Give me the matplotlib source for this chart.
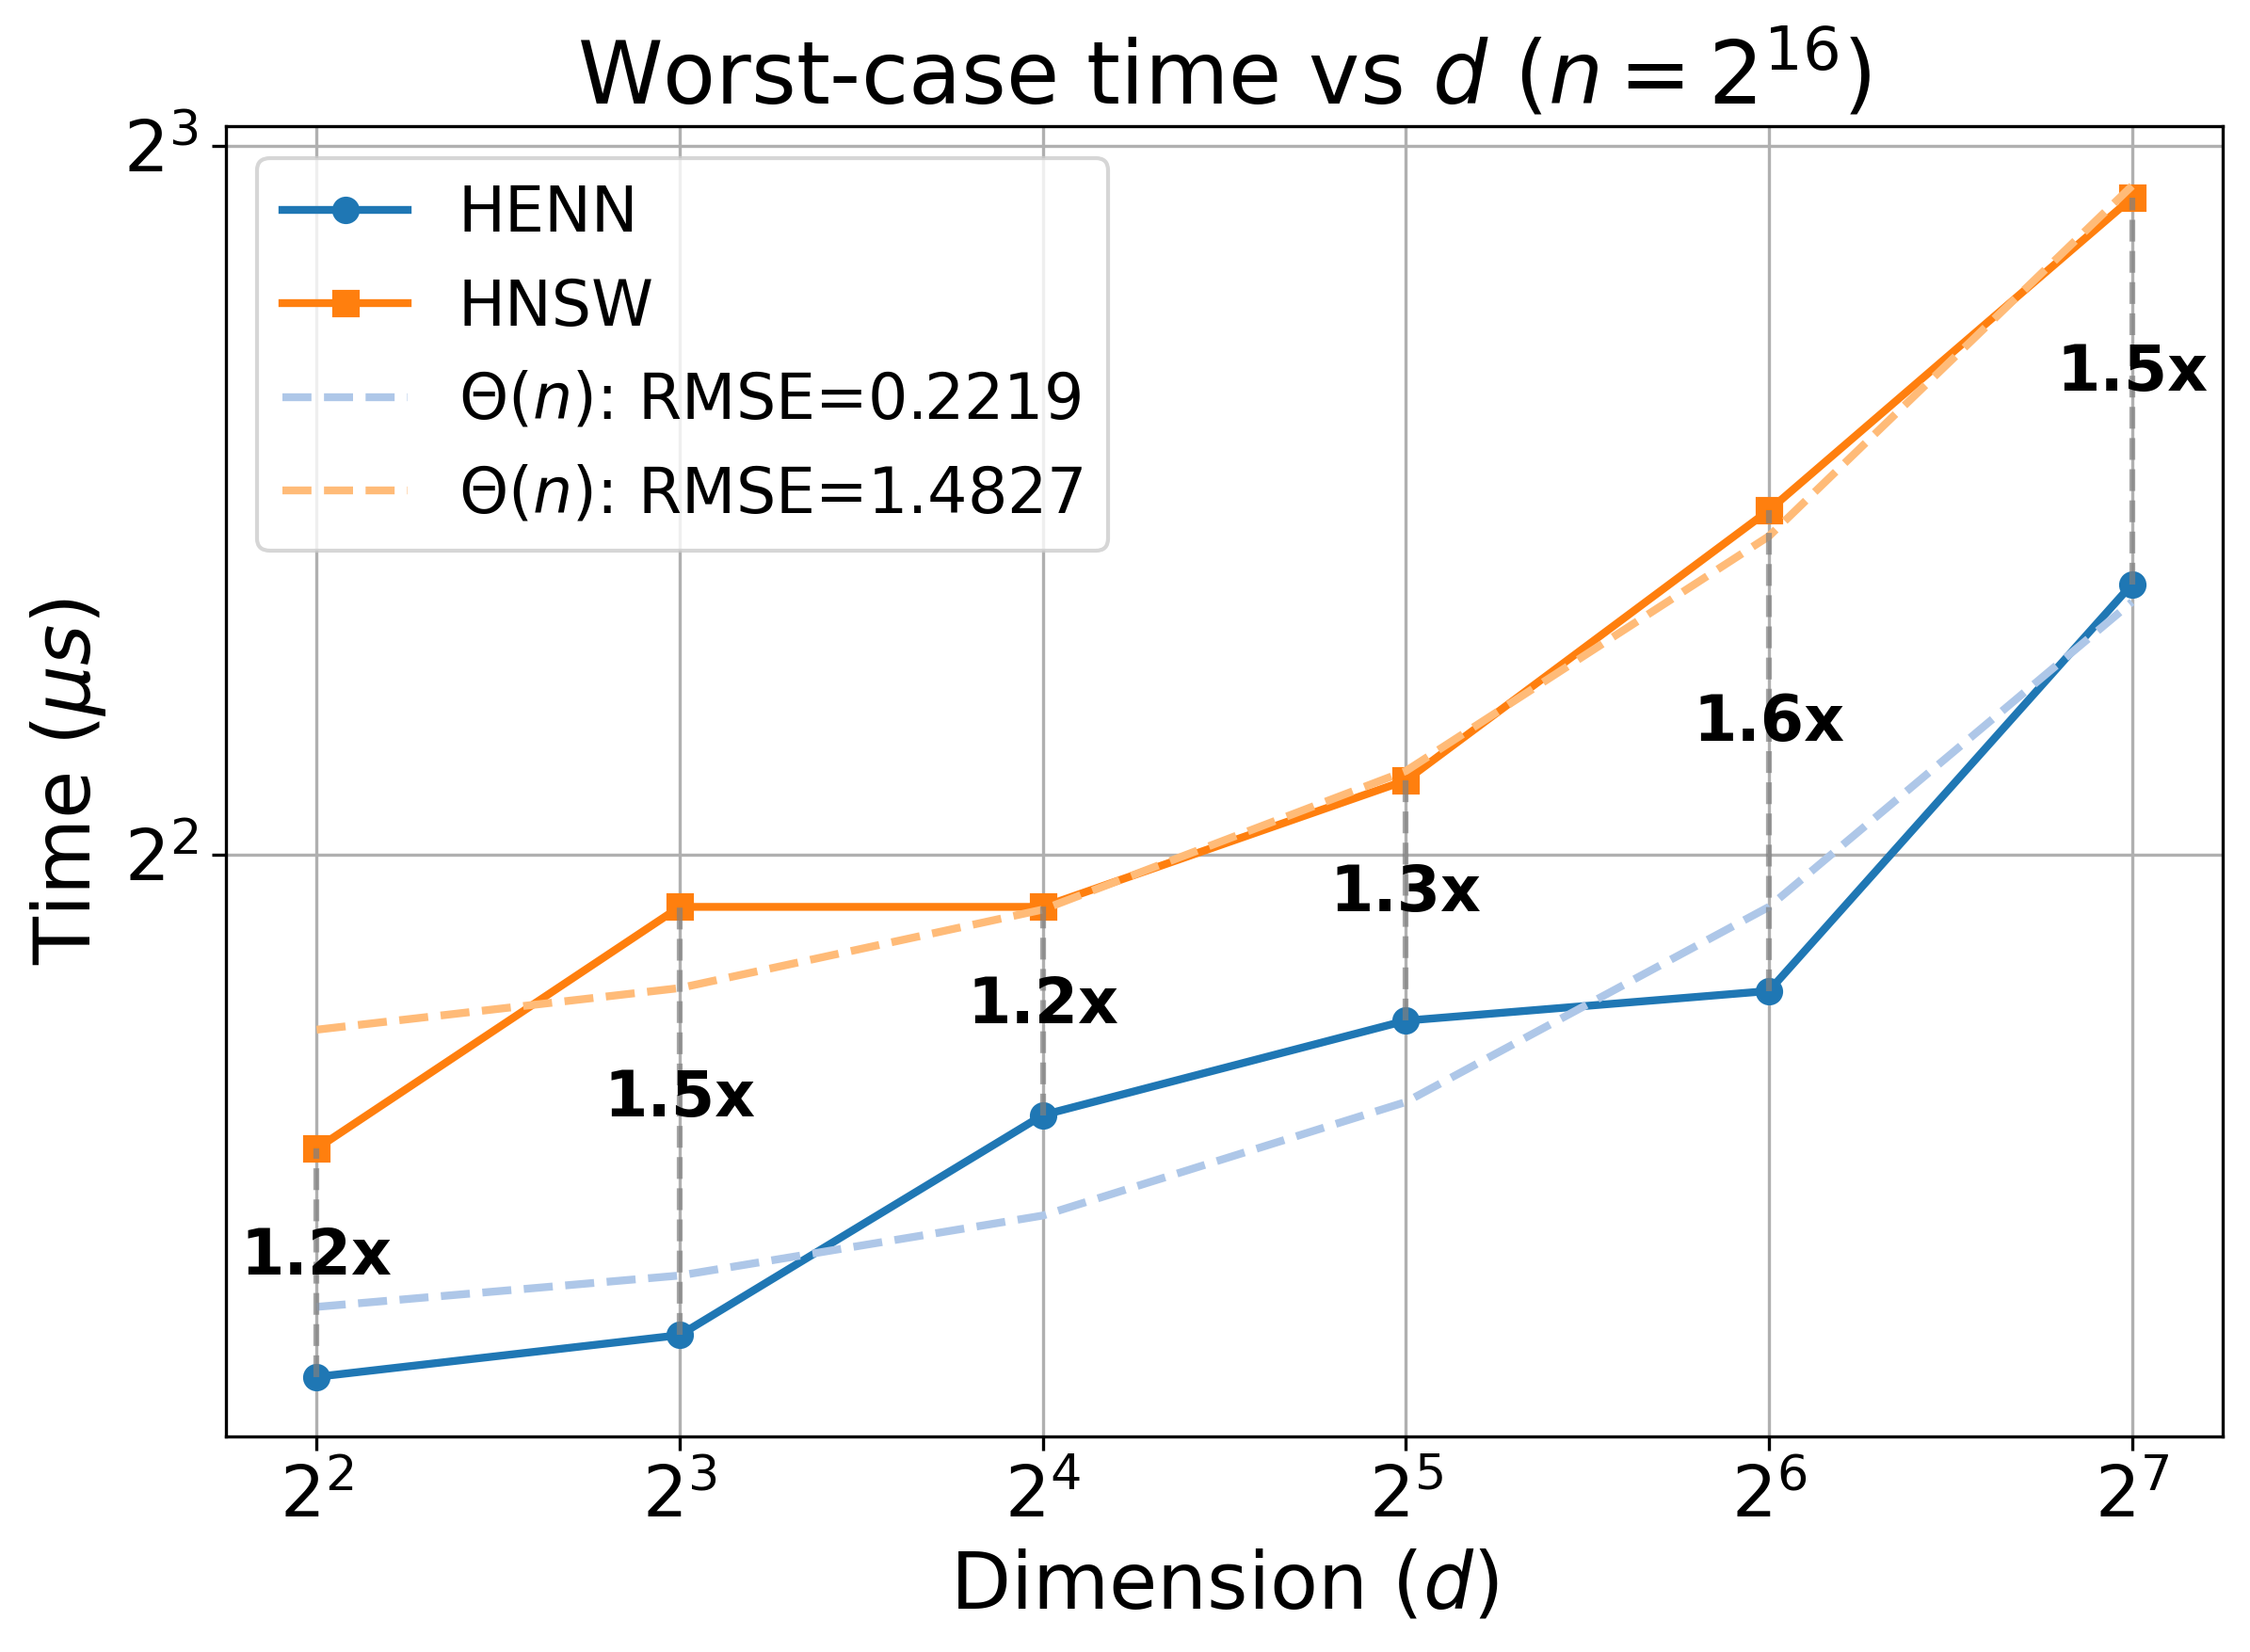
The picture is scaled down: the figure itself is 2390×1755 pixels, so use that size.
import numpy as np
import matplotlib
matplotlib.use("Agg")
import matplotlib.pyplot as plt

# values
dims = [4, 8, 16, 32, 64, 128]
henn = [2.40, 2.50, 3.10, 3.40, 3.50, 5.21]
hnsw = [3.00, 3.80, 3.80, 4.30, 5.60, 7.60]
henn_fit = [2.57, 2.65, 2.81, 3.14, 3.80, 5.12]
hnsw_fit = [3.37, 3.51, 3.79, 4.34, 5.46, 7.69]
henn_fit_label = r"$\Theta(n)$: RMSE=0.2219"
hnsw_fit_label = r"$\Theta(n)$: RMSE=1.4827"
speedups = ["1.2x", "1.5x", "1.2x", "1.3x", "1.6x", "1.5x"]

fig, ax = plt.subplots(figsize=(2390 / 300, 1755 / 300), dpi=300)
fig.subplots_adjust(left=0.1004, right=0.9879, top=0.9235, bottom=0.1305)

ax.plot(dims, henn, marker="o", color="#1f77b4", linewidth=2, markersize=6, label="HENN")
ax.plot(dims, hnsw, marker="s", color="#ff7f0e", linewidth=2, markersize=6, label="HNSW")
ax.plot(dims, henn_fit, linestyle="--", color="#aec7e8", linewidth=2, label=henn_fit_label)
ax.plot(dims, hnsw_fit, linestyle="--", color="#ffbb78", linewidth=2, label=hnsw_fit_label)

# speedup markers between the two curves
for d, a, b, s in zip(dims, henn, hnsw, speedups):
    ax.plot([d, d], [a, b], linestyle="--", color="gray", alpha=0.7, linewidth=1.5)
    ax.text(d, (a + b) / 2, s, ha="center", va="center", fontsize=16, fontweight="bold")

ax.set_xscale("log", base=2)
ax.set_yscale("log", base=2)
ax.set_title(r"Worst-case time vs $d$ ($n=2^{16}$)", fontsize=22)
ax.set_xlabel(r"Dimension ($d$)", fontsize=20)
ax.set_ylabel(r"Time ($\mu s$)", fontsize=20)
ax.tick_params(axis="both", labelsize=18)
ax.grid(True)
ax.legend(loc="upper left", fontsize=16)

fig.savefig("out.png", dpi=300)
